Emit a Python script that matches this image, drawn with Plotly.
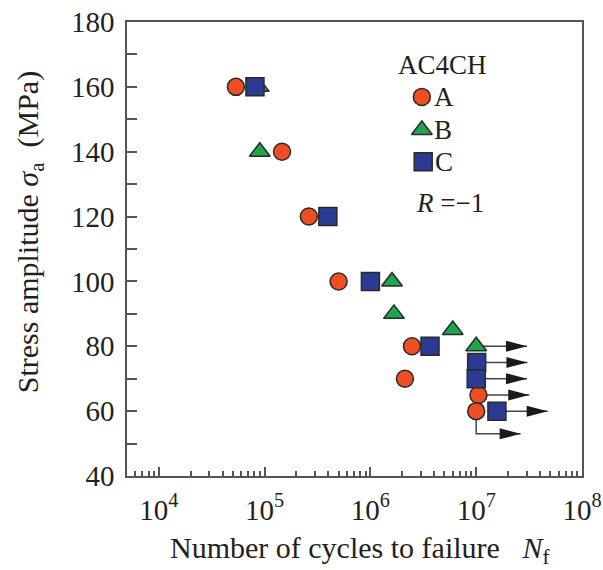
import plotly.graph_objects as go

# ---------------- data ----------------
series_names = ["A", "B", "C"]

a_cycles = [5.35e4, 1.46e5, 2.62e5, 5.0e5, 2.47e6, 2.12e6, 1.05e7, 1.0e7]
a_stress = [160, 140, 120, 100, 80, 70, 65, 60]
a_runout = [False, False, False, False, False, False, True, "bent"]

b_cycles = [8.8e4, 9.0e4, 1.6e6, 1.67e6, 6.0e6, 1.0e7]
b_stress = [160, 140, 100, 90, 85, 80]
b_runout = [False, False, False, False, False, True]

c_cycles = [8.1e4, 3.96e5, 1.0e6, 3.66e6, 1.01e7, 1.0e7, 1.57e7]
c_stress = [160, 120, 100, 80, 75, 70, 60]
c_runout = [False, False, False, False, True, True, True]

x_tick_vals = [1e4, 1e5, 1e6, 1e7, 1e8]
x_tick_text = ["10<sup>4</sup>", "10<sup>5</sup>", "10<sup>6</sup>", "10<sup>7</sup>", "10<sup>8</sup>"]
y_tick_vals = [40, 60, 80, 100, 120, 140, 160, 180]

# ---------------- style ----------------
FONT = "Liberation Serif"
TXT = "#231f20"
AXC = "#555555"
ARROW_DECADES = 0.48
BENT_DROP = 7
BENT_DECADES = 0.42

styles = {
    "A": dict(symbol="circle", color="#EF4E23", size=17),
    "B": dict(symbol="triangle-up", color="#1FA64A", size=18),
    "C": dict(symbol="square", color="#2B3A92", size=18),
}

fig = go.Figure()

# runout arrow lines (drawn first, under markers)
line_x, line_y, heads = [], [], []
for xs, ys, rs in [(a_cycles, a_stress, a_runout), (b_cycles, b_stress, b_runout), (c_cycles, c_stress, c_runout)]:
    for x, y, r in zip(xs, ys, rs):
        if r is True:
            tip = x * 10 ** ARROW_DECADES
            line_x += [x, tip, None]
            line_y += [y, y, None]
            heads.append((tip, y))
        elif r == "bent":
            tip = x * 10 ** BENT_DECADES
            line_x += [x, x, tip, None]
            line_y += [y, y - BENT_DROP, y - BENT_DROP, None]
            heads.append((tip, y - BENT_DROP))

fig.add_trace(go.Scatter(x=line_x, y=line_y, mode="lines",
                         line=dict(color="#444444", width=1.5),
                         hoverinfo="skip", showlegend=False))

for name, xs, ys in [("A", a_cycles, a_stress), ("B", b_cycles, b_stress), ("C", c_cycles, c_stress)]:
    s = styles[name]
    fig.add_trace(go.Scatter(
        x=xs, y=ys, mode="markers", name=name, showlegend=False,
        marker=dict(symbol=s["symbol"], color=s["color"], size=s["size"],
                    line=dict(color="#2a2a2a", width=1.5))))

shapes = []
for tx, ty in heads:
    shapes.append(dict(type="path", xref="x", yref="y",
                       xsizemode="pixel", ysizemode="pixel",
                       xanchor=tx, yanchor=ty,
                       path="M 0 0 L -21 5.5 L -21 -5.5 Z",
                       fillcolor="#1a1a1a", line=dict(width=0), layer="above"))

# custom legend (overlay axes in 0..1 space)
leg_pos = {"A": (0.648, 0.835), "B": (0.648, 0.762), "C": (0.651, 0.692)}
for name in series_names:
    s = styles[name]
    px, py = leg_pos[name]
    fig.add_trace(go.Scatter(
        x=[px], y=[py], xaxis="x2", yaxis="y2", mode="markers", showlegend=False,
        hoverinfo="skip",
        marker=dict(symbol=s["symbol"], color=s["color"], size=s["size"],
                    line=dict(color="#2a2a2a", width=1.5))))

annotations = [
    dict(text="AC4CH", x=0.592, y=0.905, xref="paper", yref="paper",
         xanchor="left", yanchor="middle", showarrow=False,
         font=dict(family=FONT, size=27, color=TXT)),
    dict(text="<i>R</i> =\u22121", x=0.631, y=0.601, xref="paper", yref="paper",
         xanchor="left", yanchor="middle", showarrow=False,
         font=dict(family=FONT, size=27, color=TXT)),
    dict(text="Number of cycles to failure\u00a0\u00a0\u00a0<i>N</i><sub>f</sub>",
         x=0.512, y=-0.163, xref="paper", yref="paper",
         xanchor="center", yanchor="middle", showarrow=False,
         font=dict(family=FONT, size=30, color=TXT)),
    dict(text="Stress amplitude\u00a0<i>σ</i><sub>a</sub>\u00a0\u00a0(MPa)",
         x=-0.213, y=0.537, xref="paper", yref="paper", textangle=-90,
         xanchor="center", yanchor="middle", showarrow=False,
         font=dict(family=FONT, size=30, color=TXT)),
]
for name in series_names:
    px, py = leg_pos[name]
    annotations.append(dict(text=name, x=px + 0.022, y=py, xref="paper", yref="paper",
                            xanchor="left", yanchor="middle", showarrow=False,
                            font=dict(family=FONT, size=27, color=TXT)))

fig.update_layout(
    width=603, height=570,
    margin=dict(l=127, r=21, t=22, b=94, autoexpand=False),
    paper_bgcolor="white", plot_bgcolor="white",
    font=dict(family=FONT, color=TXT),
    shapes=shapes, annotations=annotations,
    xaxis=dict(type="log", range=[3.699, 8], tickvals=x_tick_vals, ticktext=x_tick_text,
               ticks="inside", ticklen=9, tickwidth=1.5, tickcolor=AXC,
               minor=dict(ticks="inside", ticklen=5, tickwidth=1.5, tickcolor=AXC, dtick="D1", showgrid=False),
               showline=True, linecolor=AXC, linewidth=1.5, mirror=True,
               showgrid=False, zeroline=False, automargin=False,
               tickfont=dict(family=FONT, size=29, color=TXT), ticklabelstandoff=7),
    yaxis=dict(range=[40, 180], tickvals=y_tick_vals,
               ticks="inside", ticklen=10, tickwidth=1.5, tickcolor=AXC,
               minor=dict(ticks="inside", ticklen=10, tickwidth=1.5, tickcolor=AXC, dtick=10, showgrid=False),
               showline=True, linecolor=AXC, linewidth=1.5, mirror=True,
               showgrid=False, zeroline=False, automargin=False,
               tickfont=dict(family=FONT, size=29, color=TXT), ticklabelstandoff=5),
    xaxis2=dict(overlaying="x", range=[0, 1], visible=False, fixedrange=True),
    yaxis2=dict(overlaying="y", range=[0, 1], visible=False, fixedrange=True),
    showlegend=False,
)

fig.write_html("out.html", config={"displayModeBar": False},
               post_script="document.body.style.margin='0';document.body.style.overflow='hidden';")
